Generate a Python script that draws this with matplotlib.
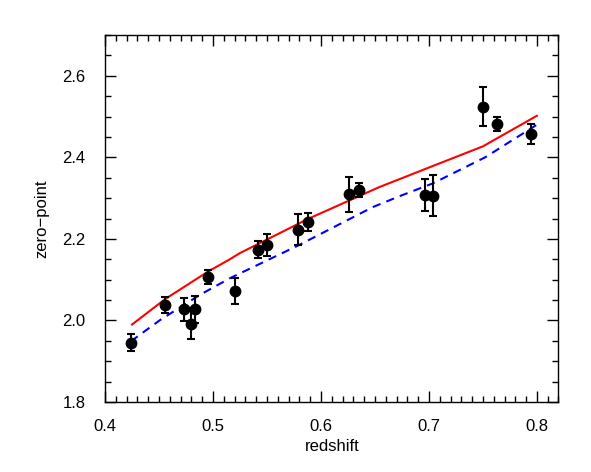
import matplotlib
matplotlib.use("Agg")
import matplotlib.pyplot as plt
from matplotlib.ticker import MultipleLocator

plt.rcParams['font.family'] = ['Liberation Sans', 'DejaVu Sans']

# Data points
z_obs = [0.424, 0.456, 0.473, 0.4795, 0.483, 0.4955, 0.520, 0.5414, 0.550,
         0.5787, 0.588, 0.6256, 0.6355, 0.6968, 0.704, 0.7497, 0.7627, 0.7945]
zp_obs = [1.945, 2.038, 2.027, 1.992, 2.027, 2.107, 2.073, 2.174, 2.184,
          2.222, 2.241, 2.309, 2.319, 2.308, 2.306, 2.524, 2.482, 2.457]
zp_err = [0.021, 0.019, 0.028, 0.038, 0.033, 0.017, 0.032, 0.021, 0.027,
          0.038, 0.022, 0.042, 0.017, 0.040, 0.050, 0.048, 0.018, 0.024]

# Model curves
z_red = [0.425, 0.456, 0.4955, 0.5156, 0.5248, 0.588, 0.654, 0.70, 0.75, 0.80]
zp_red = [1.990, 2.053, 2.120, 2.150, 2.165, 2.249, 2.327, 2.375, 2.427, 2.502]

z_blue = [0.424, 0.451, 0.488, 0.516, 0.579, 0.648, 0.673, 0.7035, 0.752, 0.80]
zp_blue = [1.949, 2.001, 2.063, 2.104, 2.184, 2.278, 2.305, 2.336, 2.400, 2.480]

x_ticks = [0.4, 0.5, 0.6, 0.7, 0.8]
y_ticks = [1.8, 2.0, 2.2, 2.4, 2.6]

fig = plt.figure(figsize=(5.91, 4.72), dpi=100)
ax = fig.add_axes([0.1777, 0.1483, 0.945 - 0.1777, 0.9258 - 0.1483])

ax.plot(z_red, zp_red, color='#ff0000', lw=1.5, zorder=2)
ax.plot(z_blue, zp_blue, color='#0000ff', lw=1.5, dashes=(4, 3), zorder=2)
ax.errorbar(z_obs, zp_obs, yerr=zp_err, fmt='o', color='black', ms=7.5,
            elinewidth=1.5, capsize=3, capthick=1.5, zorder=3)

ax.set_xlim(0.4, 0.82)
ax.set_ylim(1.8, 2.7)
ax.set_xticks(x_ticks)
ax.set_xticklabels([f"{v:.1f}" for v in x_ticks])
ax.set_yticks(y_ticks)
ax.set_yticklabels([f"{v:.1f}" for v in y_ticks])
ax.xaxis.set_minor_locator(MultipleLocator(0.01))
ax.yaxis.set_minor_locator(MultipleLocator(0.05))
ax.tick_params(which='both', direction='in', top=True, right=True,
               labelsize=12, width=1.0)
ax.tick_params(which='major', length=8)
ax.tick_params(axis='x', which='major', pad=12)
ax.tick_params(axis='y', which='major', pad=14)
ax.tick_params(which='minor', length=4)
for s in ax.spines.values():
    s.set_linewidth(1.0)

ax.set_xlabel('redshift', fontsize=12, labelpad=4)
ax.set_ylabel('zero\u2212point', fontsize=12, labelpad=9)

fig.savefig('out.png', dpi=100)
